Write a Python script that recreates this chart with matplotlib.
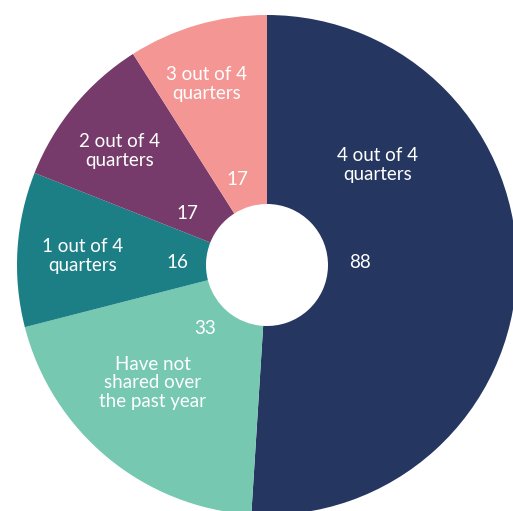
import matplotlib.pyplot as plt

# Data
categories = ['4 out of 4\nquarters', 'Have not\nshared over\nthe past year',
              '1 out of 4\nquarters', '2 out of 4\nquarters', '3 out of 4\nquarters']
counts = [88, 33, 16, 17, 17]
shares = [51, 20, 10, 10, 9]   # % used for the slice sizes
colors = ['#253760', '#76C8B1', '#1C7F86', '#763B6A', '#F49693']

plt.rcParams['font.family'] = ['Lato', 'DejaVu Sans']

fig = plt.figure(figsize=(5.13, 5.11), dpi=100)
ax = fig.add_axes([0, 0, 1, 1])

# centre of the donut in pixel units
cx, cy = 267, 265
R = 250
hole = 61

wedges, _ = ax.pie(shares, colors=colors, radius=R, startangle=90, counterclock=False,
                   wedgeprops=dict(width=R - hole, linewidth=0))

# label offsets from the centre (pixels)
value_pos = [(93, 2), (-62, -64), (-90, 2), (-80, 52), (-30, 86)]
cat_pos = [(111, 100), (-114, -118), (-184, 9), (-147, 114), (-60, 181)]
for n, cat, (vx, vy), (lx, ly) in zip(counts, categories, value_pos, cat_pos):
    ax.text(vx, vy, str(n), ha='center', va='center', color='white', fontsize=13.5)
    ax.text(lx, ly, cat, ha='center', va='center', color='white', fontsize=13.5,
            linespacing=1.1)

ax.set_xlim(-cx, 513 - cx)
ax.set_ylim(-(511 - cy), cy)
ax.set_aspect('equal')
ax.axis('off')

plt.savefig('out.png', dpi=100)
